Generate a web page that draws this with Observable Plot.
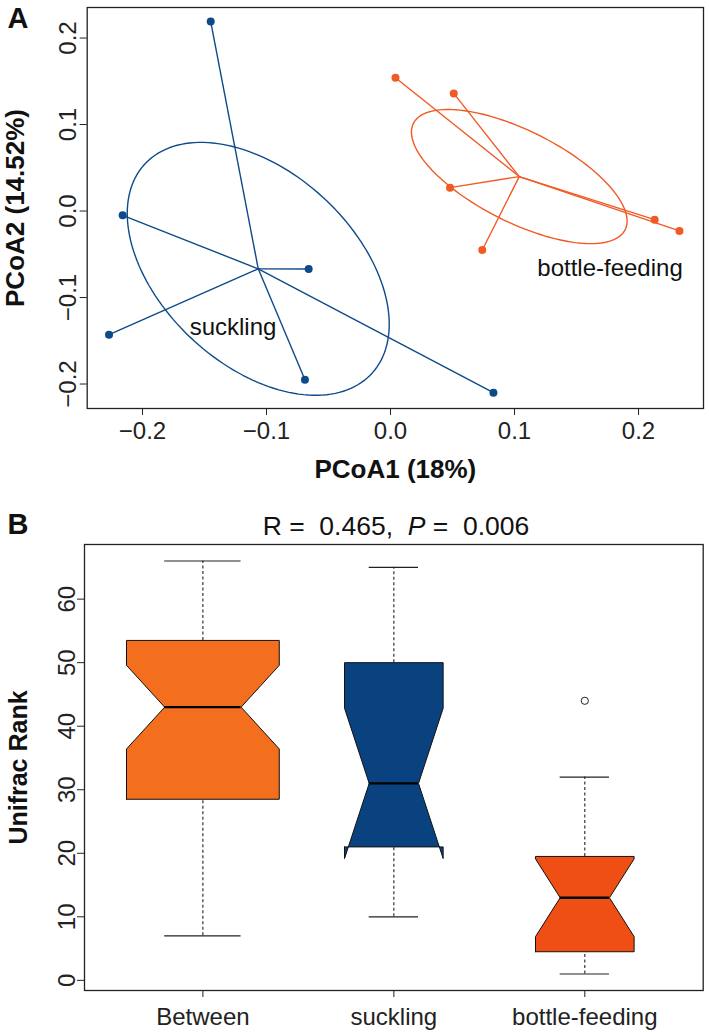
<!DOCTYPE html>
<html><head><meta charset="utf-8">
<script src="https://cdn.jsdelivr.net/npm/d3@7"></script>
<script src="https://cdn.jsdelivr.net/npm/@observablehq/plot@0.6"></script>
<style>
body{margin:0;background:#fff;}
#wrap{position:relative;width:709px;height:1032px;overflow:hidden;font-family:"Liberation Sans",Arial,Helvetica,sans-serif;}
#a{position:absolute;left:0;top:0;}
#b{position:absolute;left:0;top:490px;}
#ttl{position:absolute;left:396px;top:513px;transform:translateX(-50%);white-space:pre;font-size:26.5px;line-height:26px;color:#111;}
</style></head><body>
<div id="wrap"><div id="a"></div><div id="b"></div>
<div id="ttl">R = &nbsp;0.465, &nbsp;<i>P</i> = &nbsp;0.006</div>
</div>
<script>
// ---------- Panel A data (PCoA) ----------
const groups = ["suckling", "bottle-feeding"];
const sucklingPC1 = [-0.145, -0.216, -0.066, -0.227, -0.069, 0.083];
const sucklingPC2 = [0.219, -0.005, -0.067, -0.143, -0.195, -0.210];
const bottlePC1 = [0.004, 0.051, 0.048, 0.074, 0.213, 0.233];
const bottlePC2 = [0.154, 0.136, 0.027, -0.045, -0.010, -0.023];
const groupLabelX = [-0.127, 0.177];
const groupLabelY = [-0.134, -0.066];
const xTicksA = [-0.2, -0.1, 0.0, 0.1, 0.2];
const yTicksA = [-0.2, -0.1, 0.0, 0.1, 0.2];

// ---------- Panel B data (boxplot stats) ----------
const boxCategories = ["Between", "suckling", "bottle-feeding"];
const boxN = [36, 15, 15];
const whiskerLow = [7, 10, 1];
const q1 = [28.5, 21, 4.5];
const median = [43, 31, 13];
const q3 = [53.5, 50, 19.5];
const whiskerHigh = [66, 65, 32];
const outlierCategory = ["bottle-feeding"];
const outlierValue = [44];
const yTicksB = [0, 10, 20, 30, 40, 50, 60];

// ---------- styles ----------
const FONT = '"Liberation Sans", Arial, Helvetica, sans-serif';
const groupColors = ["#0E4A8A", "#F15A24"];
const boxColors = ["#F36E1D", "#0A4280", "#EF4E14"];
const INK = "#222";

// ---------- build panel A tables ----------
const groupX = [sucklingPC1, bottlePC1];
const groupY = [sucklingPC2, bottlePC2];
const pts = [], ell = [];
groups.forEach((g, gi) => {
  const xs = groupX[gi], ys = groupY[gi];
  const mx = d3.mean(xs), my = d3.mean(ys);
  xs.forEach((x, i) => pts.push({group: g, x, y: ys[i], cx: mx, cy: my}));
  // standard-deviation ellipse from covariance (divisor n)
  const sxx = d3.mean(xs, x => (x - mx) ** 2);
  const syy = d3.mean(ys, y => (y - my) ** 2);
  const sxy = d3.mean(xs.map((x, i) => (x - mx) * (ys[i] - my)));
  const a = Math.sqrt(sxx), b = sxy / a, c = Math.sqrt(Math.max(0, syy - b * b));
  const N = 160;
  for (let k = 0; k <= N; k++) {
    const t = 2 * Math.PI * k / N;
    ell.push({group: g, x: mx + a * Math.cos(t), y: my + b * Math.cos(t) + c * Math.sin(t)});
  }
});

const plotA = Plot.plot({
  width: 709, height: 490,
  marginLeft: 86.7, marginTop: 7, marginRight: 6, marginBottom: 82,
  style: {fontFamily: FONT, fontSize: "24px", color: INK, background: "white"},
  x: {domain: [-0.2446, 0.2524]},
  y: {domain: [-0.2283, 0.2353]},
  color: {domain: groups, range: groupColors},
  marks: [
    Plot.frame({stroke: INK, strokeWidth: 1.3}),
    Plot.axisX({ticks: xTicksA, tickSize: 7, tickPadding: 6, tickFormat: d3.format(".1f"), label: null, fontSize: 24, stroke: INK}),
    Plot.axisY({ticks: yTicksA, tickSize: 7, tickPadding: 4.7, tickRotate: -90, tickFormat: d3.format(".1f"), label: null, fontSize: 24, stroke: INK}),
    Plot.line(ell, {x: "x", y: "y", z: "group", stroke: "group", strokeWidth: 1.4}),
    Plot.link(pts, {x1: "cx", y1: "cy", x2: "x", y2: "y", stroke: "group", strokeWidth: 1.4}),
    Plot.dot(pts, {x: "x", y: "y", fill: "group", r: 4}),
    Plot.text(groups, {x: (d, i) => groupLabelX[i], y: (d, i) => groupLabelY[i], text: d => d, fontSize: 24, fill: "#111", lineAnchor: "middle"}),
    Plot.text(["PCoA1 (18%)"], {frameAnchor: "bottom", dy: 61.5, text: d => d, fontWeight: "bold", fontSize: 26, lineAnchor: "middle", fill: "#111"}),
    Plot.text(["PCoA2 (14.52%)"], {frameAnchor: "left", dx: -71.7, rotate: -90, text: d => d, textAnchor: "middle", fontWeight: "bold", fontSize: 26, lineAnchor: "middle", fill: "#111"}),
    Plot.text(["A"], {frameAnchor: "top-left", dx: -79.7, dy: 20, text: d => d, textAnchor: "start", lineAnchor: "bottom", fontWeight: "bold", fontSize: 29, fill: "#111"})
  ]
});
document.getElementById("a").appendChild(plotA);

// ---------- build panel B tables ----------
const maxN = d3.max(boxN);
const stats = boxCategories.map((cat, i) => {
  const w = 0.4 * Math.sqrt(boxN[i] / maxN);
  const conf = 1.58 * (q3[i] - q1[i]) / Math.sqrt(boxN[i]);
  return {cat, pos: i + 1, w, lo: whiskerLow[i], q1: q1[i], med: median[i], q3: q3[i], hi: whiskerHigh[i],
          cLo: median[i] - conf, cHi: median[i] + conf};
});
const verts = [];
stats.forEach(s => {
  const fx = [-1, 1, 1, 0.5, 1, 1, -1, -1, -0.5, -1, -1];
  const fy = [s.q1, s.q1, s.cLo, s.med, s.cHi, s.q3, s.q3, s.cHi, s.med, s.cLo, s.q1];
  fx.forEach((f, k) => verts.push({cat: s.cat, x: s.pos + f * s.w, y: fy[k]}));
});
const outliers = outlierCategory.map((c, i) => ({pos: boxCategories.indexOf(c) + 1, y: outlierValue[i]}));

const plotB = Plot.plot({
  width: 709, height: 542,
  marginLeft: 84, marginTop: 54, marginRight: 6.3, marginBottom: 42,
  style: {fontFamily: FONT, fontSize: "24px", color: INK, background: "white"},
  x: {domain: [0.38, 3.62]},
  y: {domain: [-1.6, 68.6]},
  color: {domain: boxCategories, range: boxColors},
  marks: [
    Plot.frame({stroke: INK, strokeWidth: 1.3}),
    Plot.axisX({ticks: [1, 2, 3], tickFormat: d => boxCategories[d - 1], tickSize: 7, tickPadding: 10, label: null, fontSize: 24, stroke: INK}),
    Plot.axisY({ticks: yTicksB, tickSize: 7, tickPadding: 3, tickRotate: -90, label: null, fontSize: 24, stroke: INK}),
    Plot.ruleX(stats, {x: "pos", y1: "q3", y2: "hi", stroke: INK, strokeWidth: 1.1, strokeDasharray: "3,2.5"}),
    Plot.ruleX(stats, {x: "pos", y1: "lo", y2: "q1", stroke: INK, strokeWidth: 1.1, strokeDasharray: "3,2.5"}),
    Plot.ruleY(stats, {y: "hi", x1: d => d.pos - d.w / 2, x2: d => d.pos + d.w / 2, stroke: INK, strokeWidth: 1.2}),
    Plot.ruleY(stats, {y: "lo", x1: d => d.pos - d.w / 2, x2: d => d.pos + d.w / 2, stroke: INK, strokeWidth: 1.2}),
    Plot.line(verts, {x: "x", y: "y", z: "cat", fill: "cat", stroke: "#111", strokeWidth: 1, strokeLinejoin: "miter"}),
    Plot.ruleY(stats, {y: "med", x1: d => d.pos - d.w / 2, x2: d => d.pos + d.w / 2, stroke: "#000", strokeWidth: 2.4}),
    Plot.dot(outliers, {x: "pos", y: "y", r: 3.6, stroke: INK, strokeWidth: 1, fill: "white"}),
    Plot.text(["Unifrac Rank"], {frameAnchor: "left", dx: -66, rotate: -90, text: d => d, textAnchor: "middle", fontWeight: "bold", fontSize: 25, lineAnchor: "middle", fill: "#111"}),
    Plot.text(["B"], {frameAnchor: "top-left", dx: -77, dy: -10.2, text: d => d, textAnchor: "start", lineAnchor: "bottom", fontWeight: "bold", fontSize: 29, fill: "#111"})
  ]
});
document.getElementById("b").appendChild(plotB);
</script>
</body></html>
